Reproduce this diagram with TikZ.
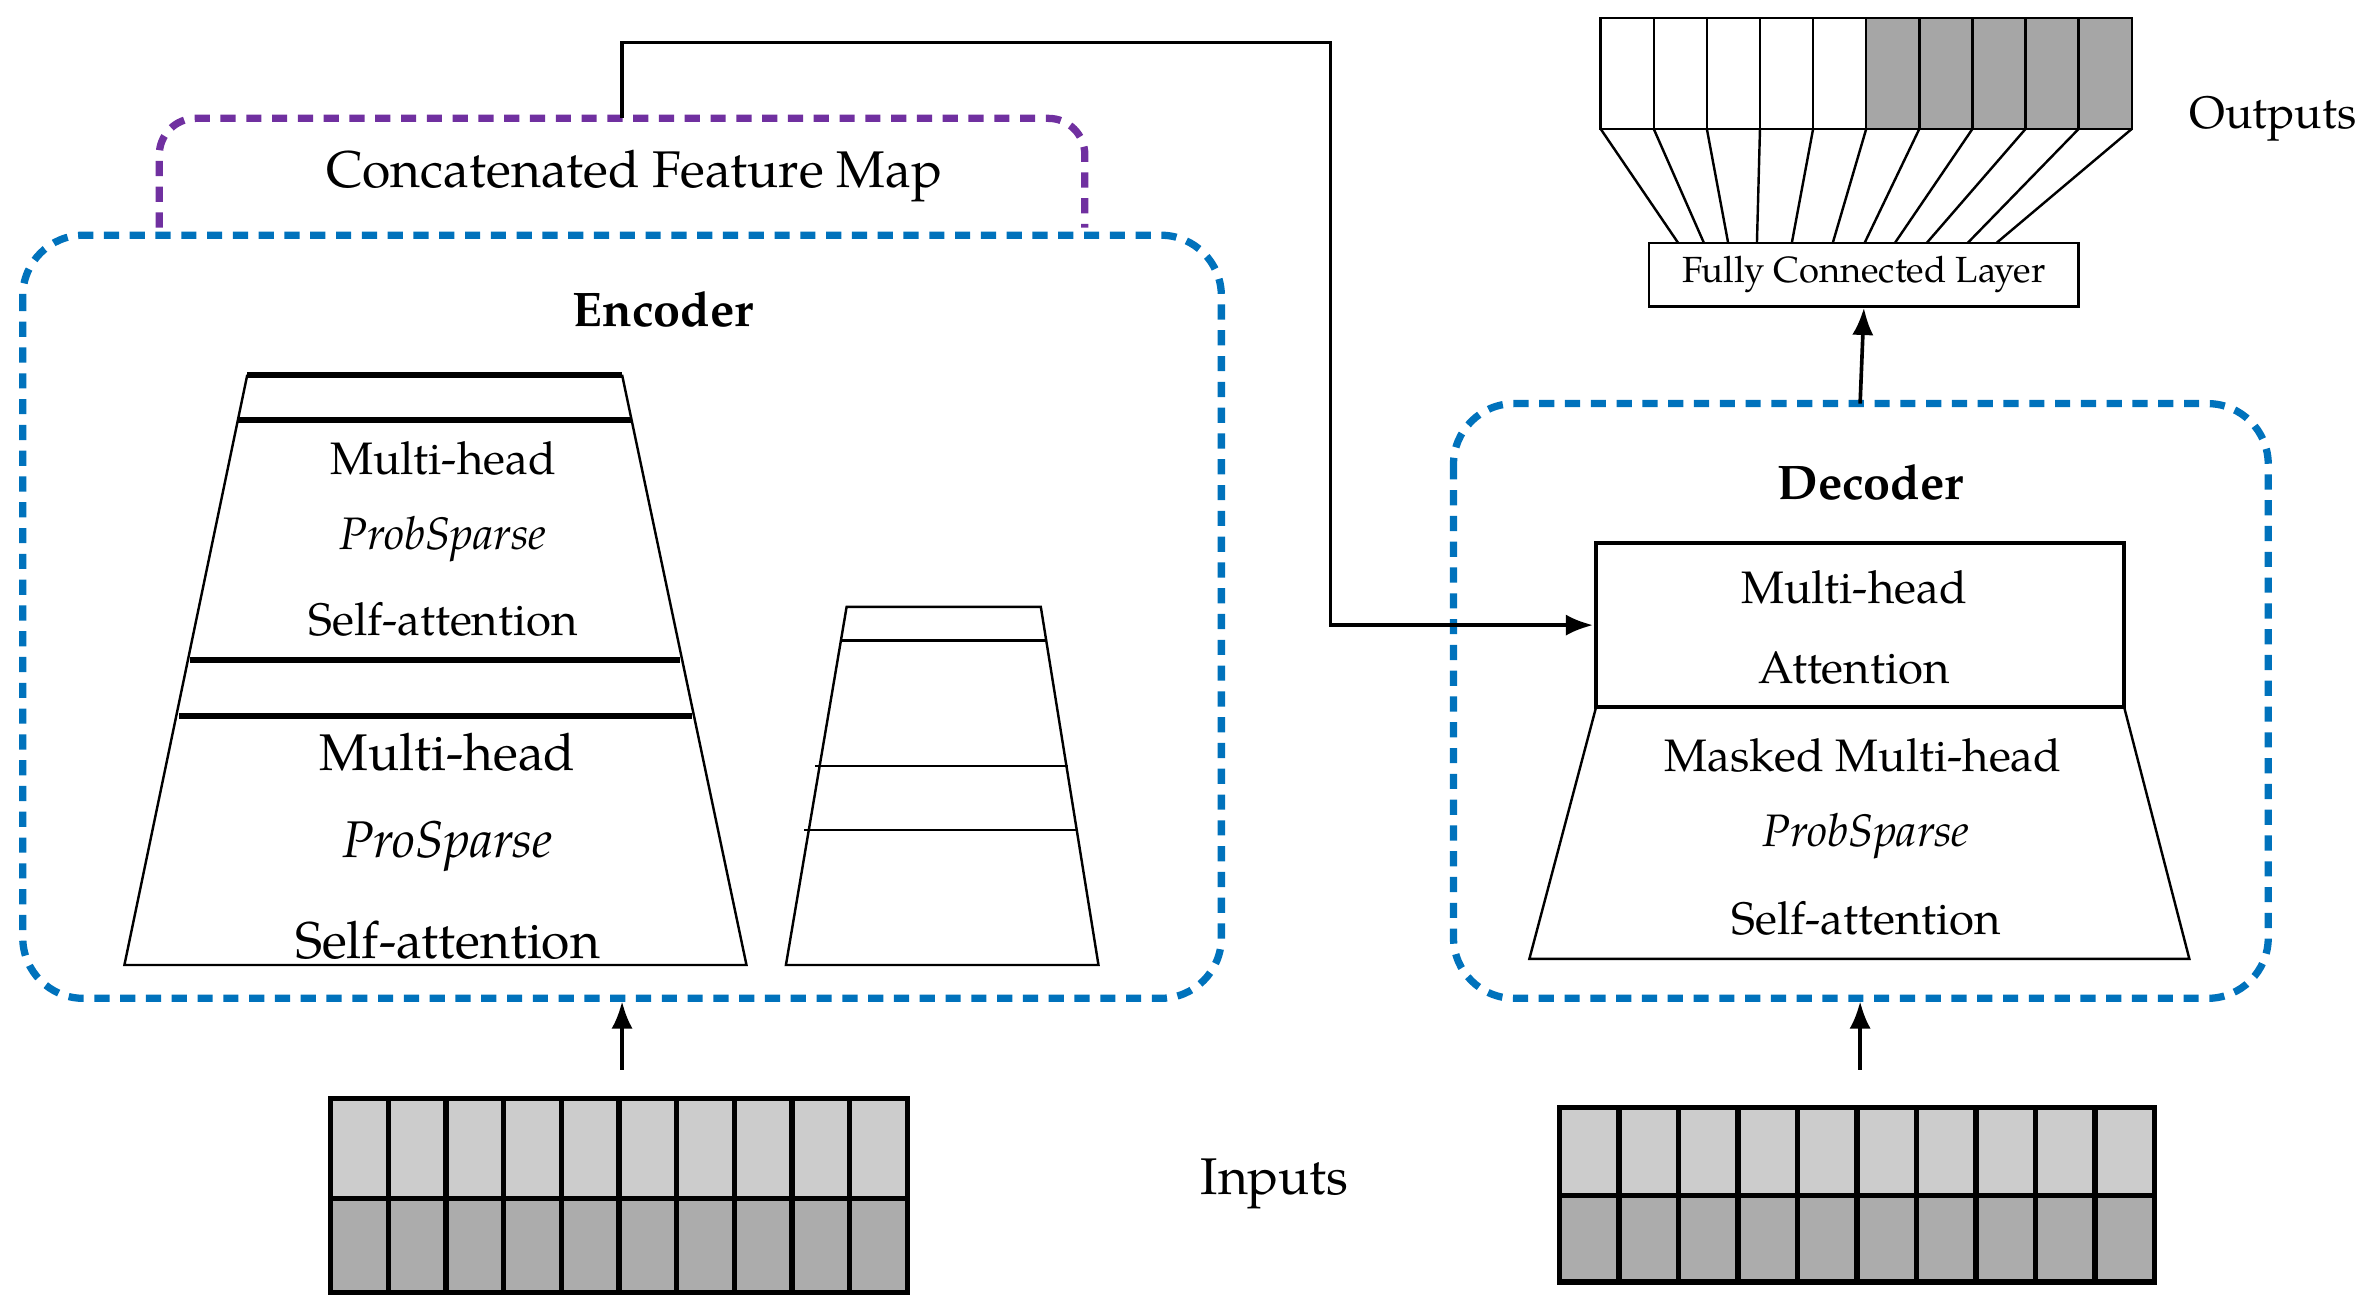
\documentclass[tikz,border=0pt]{standalone}
\usepackage{fontspec}
\setmainfont{TeX Gyre Pagella}
\usetikzlibrary{arrows.meta}
\begin{document}
\begin{tikzpicture}[x=0.5pt,y=-0.5pt,
  bdash/.style={draw=blueD,line width=2.4pt,dash pattern=on 5pt off 3.5pt,rounded corners=20pt},
  pdash/.style={draw=purp,line width=2.4pt,dash pattern=on 5pt off 3.5pt,rounded corners=12pt},
  lbl/.style={font=\fontsize{15}{18}\selectfont,inner sep=0pt},
  arr/.style={-{Latex[length=9pt,width=7pt]},line width=1.2pt},
  thin/.style={line width=0.8pt},
  thk/.style={line width=2pt}]
\definecolor{blueD}{RGB}{0,114,188}
\definecolor{purp}{RGB}{112,48,160}
\useasboundingbox (0,0) rectangle (1568,864);
% purple
\draw[pdash] (105,150) -- (105,78) -- (715,78) -- (715,150);
\node[lbl,font=\fontsize{17}{20}\selectfont] (cfm) at (418,116) {Concatenated Feature Map};
% encoder box
\draw[bdash] (15,155) rectangle (805,658);
\node[lbl,font=\bfseries\fontsize{16}{19}\selectfont] (enc) at (437,204) {Encoder};
% big trapezoid
\draw[thin] (163,247) -- (82,636) -- (492,636) -- (410,247);
\draw[thk] (163,247) -- (410,247);
\draw[thk] (157,277) -- (416,277);
\draw[thk] (125,435) -- (448,435);
\draw[thk] (118,472) -- (456,472);
\node[lbl] (e1) at (292,302) {Multi-head};
\node[lbl,font=\itshape\fontsize{15}{18}\selectfont] (e2) at (292,355) {ProbSparse};
\node[lbl] (e3) at (292,408) {Self-attention};
\node[lbl,font=\fontsize{17}{20}\selectfont] (e4) at (295,496) {Multi-head};
\node[lbl,font=\itshape\fontsize{17}{20}\selectfont] (e5) at (295,558) {ProSparse};
\node[lbl,font=\fontsize{17}{20}\selectfont] (e6) at (295,620) {Self-attention};
% small trapezoid
\draw[thin] (558,400) -- (518,636) -- (724,636) -- (686,400) -- cycle;
\draw[thin] (554,422) -- (690,422);
\draw[thin] (537,505) -- (704,505);
\draw[thin] (530,547) -- (710,547);
% inputs encoder
\foreach \i in {0,...,9}{
  \draw[line width=1.8pt,fill=gray!40] (218+38*\i,724) rectangle (256+38*\i,790);
  \draw[line width=1.8pt,fill=gray!65] (218+38*\i,790) rectangle (256+38*\i,852);}
\coordinate (ein) at (410,705);
\coordinate (eb) at (410,660);
\draw[arr] (ein) -- (eb);
\node[lbl,font=\fontsize{17}{20}\selectfont] (inp) at (840,780) {Inputs};
% decoder
\draw[bdash] (958,266) rectangle (1495,658);
\node[lbl,font=\bfseries\fontsize{16}{19}\selectfont] (dec) at (1233,318) {Decoder};
\draw[line width=1.2pt] (1052,358) rectangle (1400,466);
\coordinate (mha) at (1050,412);
\node[lbl] (d1) at (1222,387) {Multi-head};
\node[lbl] (d2) at (1222,440) {Attention};
\draw[thin] (1052,466) -- (1008,632) -- (1443,632) -- (1400,466);
\node[lbl] (d3) at (1228,498) {Masked Multi-head};
\node[lbl,font=\itshape\fontsize{15}{18}\selectfont] (d4) at (1230,551) {ProbSparse};
\node[lbl] (d5) at (1230,605) {Self-attention};
\foreach \i in {0,...,9}{
  \draw[line width=1.8pt,fill=gray!40] (1028+39.2*\i,730) rectangle (1067.2+39.2*\i,788);
  \draw[line width=1.8pt,fill=gray!65] (1028+39.2*\i,788) rectangle (1067.2+39.2*\i,845);}
\coordinate (din) at (1226,705);
\coordinate (db) at (1226,660);
\draw[arr] (din) -- (db);
% connector
\coordinate (c0) at (410,78);
\draw[arr] (c0) -- (410,28) -- (877,28) -- (877,412) -- (mha);
% FC
\node[draw,line width=0.8pt,minimum width=141.5pt,minimum height=21pt,inner sep=0pt,
  font=\fontsize{12}{14}\selectfont] (fc) at (1228.5,181) {Fully Connected Layer};
\coordinate (dt) at (1226,266);
\draw[arr] (dt) -- (fc.south);
% outputs
\foreach \i in {0,...,9}{
  \ifnum\i<5 \def\cc{white}\else\def\cc{gray!70}\fi
  \draw[line width=0.8pt,fill=\cc] (1055+35*\i,12) rectangle (1090+35*\i,85);}
\foreach \a/\b in {1106/0,1123/1,1139/2,1158/3,1181/4,1208/5,1229/6,1249/7,1270/8,1297/9,1316/10}
  \draw[thin] (1055+35*\b,85) -- (\a,160);
\node[lbl,font=\fontsize{15}{18}\selectfont] (out) at (1498,78) {Outputs};
\end{tikzpicture}
\end{document}
